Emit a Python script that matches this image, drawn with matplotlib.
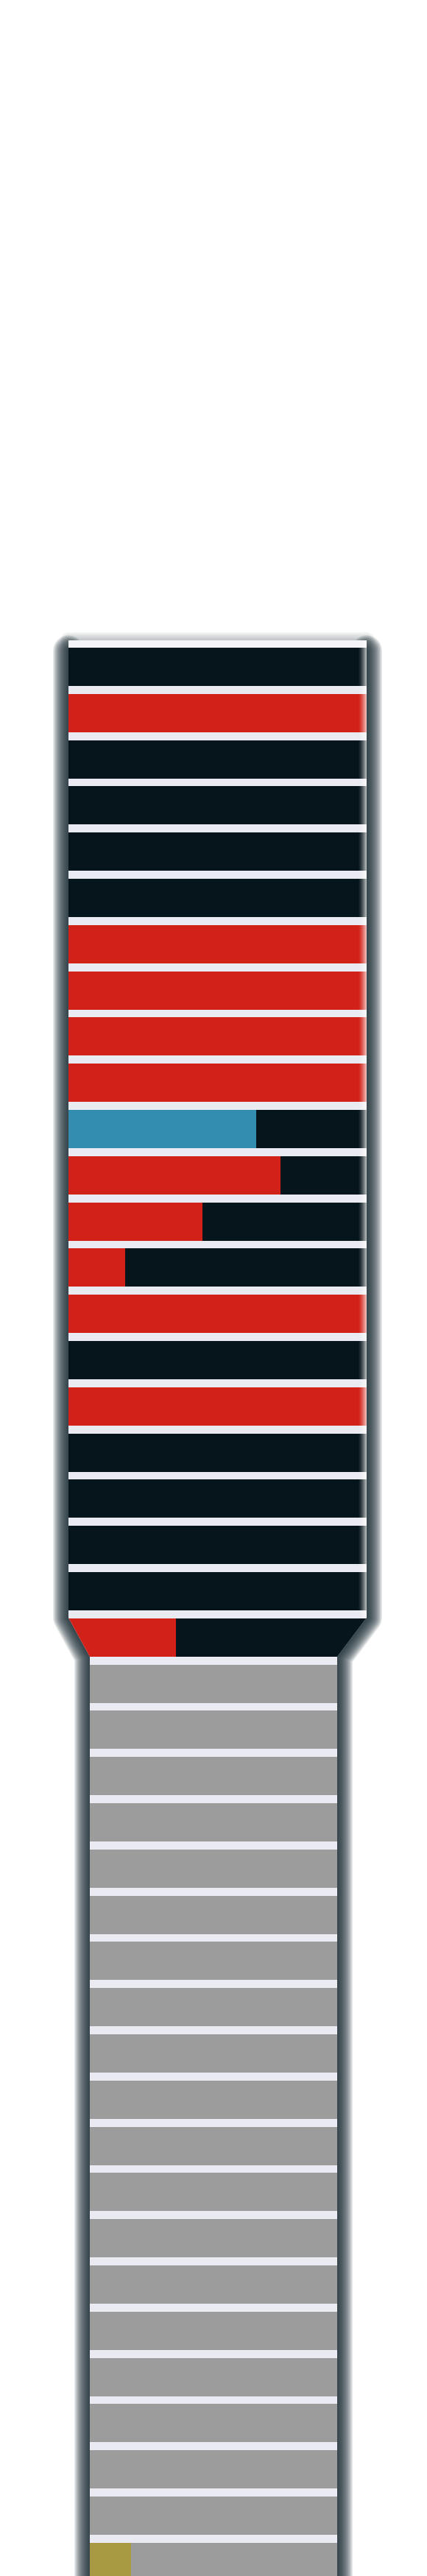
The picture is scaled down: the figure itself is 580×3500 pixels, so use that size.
import numpy as np
import matplotlib
matplotlib.use("Agg")
import matplotlib.pyplot as plt
from matplotlib.patches import Polygon

# Share of each row taken by the highlighted segment (percent), top to bottom
share = [0, 100, 0, 0, 0, 0, 100, 100, 100, 100,
         63, 71, 45, 19, 100, 0, 100, 0, 0, 0,
         0, 36,
         0, 0, 0, 0, 0, 0, 0, 0, 0, 0,
         0, 0, 0, 0, 0, 0, 0, 0, 0, 21]
# Colour of the highlighted segment per row
seg_color = (['#d12118'] * 10 + ['#338db0'] + ['#d12118'] * 11
             + ['#d12118'] * 19 + ['#a89943'])
# Colour of the remainder per row
rest_color = ['#06151c'] * 22 + ['#9c9c9c'] * 20

rows = np.arange(len(share))
share = np.array(share, dtype=float)

bg = '#eaeaf2'
W, H = 580, 3500
fig = plt.figure(figsize=(W / 100, H / 100), dpi=100)
fig.patch.set_facecolor('white')

# axes: x 0..100 -> px 93..498 ; rows pitch 62.8 px, row 0 centre at 906 px
x0, x1 = 93, 498
top_px = 870
ax = fig.add_axes([x0 / W, 0, (x1 - x0) / W, 1 - top_px / H])
pitch, c0 = 62.8, 906
ax.set_xlim(0, 100)
ax.set_ylim((H - c0) / pitch, (top_px - c0) / pitch)
ax.axis('off')

# outline of the shape (wide top, narrow bottom) in data units
def px2x(p):
    return (p - x0) / (x1 - x0) * 100

def py2y(p):
    return (p - c0) / pitch

outline = [(px2x(93), py2y(870)), (px2x(498), py2y(870)),
           (px2x(498), py2y(2198)), (px2x(458), py2y(2251)),
           (px2x(458), py2y(3560)), (px2x(122), py2y(3560)),
           (px2x(122), py2y(2251)), (px2x(93), py2y(2198))]

# soft shadow along the sides (open at the top, rounded ends)
sides = ([(100, py2y(884))] + outline[2:] + [(0, py2y(884))])
for lw in np.linspace(30, 2, 15):
    sh = Polygon(sides, closed=False, fill=False, edgecolor='#1a2c32',
                 linewidth=lw, alpha=0.12, joinstyle='round', capstyle='round',
                 clip_on=False, zorder=0)
    ax.add_patch(sh)
# fainter shadow along the top edge
for lw in np.linspace(16, 2, 6):
    ax.add_patch(Polygon(outline[:2], closed=False, fill=False,
                         edgecolor='#1a2c32', linewidth=lw, alpha=0.05,
                         capstyle='round', clip_on=False, zorder=0))

back = Polygon(outline, closed=True, facecolor=bg, edgecolor='none', zorder=1)
ax.add_patch(back)
clip = Polygon(outline, closed=True, transform=ax.transData)

bh = 52 / pitch
b1 = ax.barh(rows, share, height=bh, color=seg_color, linewidth=0, zorder=2)
b2 = ax.barh(rows, 100 - share, left=share, height=bh, color=rest_color,
             linewidth=0, zorder=2)
for b in list(b1) + list(b2):
    b.set_clip_path(clip)

# lighter band above the first row
ax.axhspan(py2y(870), py2y(880), color='#f3f3f8', zorder=1.5, linewidth=0)

# light fade at the right edge of the wide part
grad = np.linspace(0, 1, 64).reshape(1, -1)
fade = np.zeros((1, 64, 4))
fade[..., :3] = 1.0
fade[..., 3] = grad ** 1.5 * 0.75
im = ax.imshow(fade, extent=(px2x(486), 100, py2y(2198), py2y(870)),
               aspect='auto', zorder=3, interpolation='bilinear')
im.set_clip_path(clip)
ax.set_xlim(0, 100)
ax.set_ylim((H - c0) / pitch, (top_px - c0) / pitch)

fig.savefig('out.png', dpi=100)
